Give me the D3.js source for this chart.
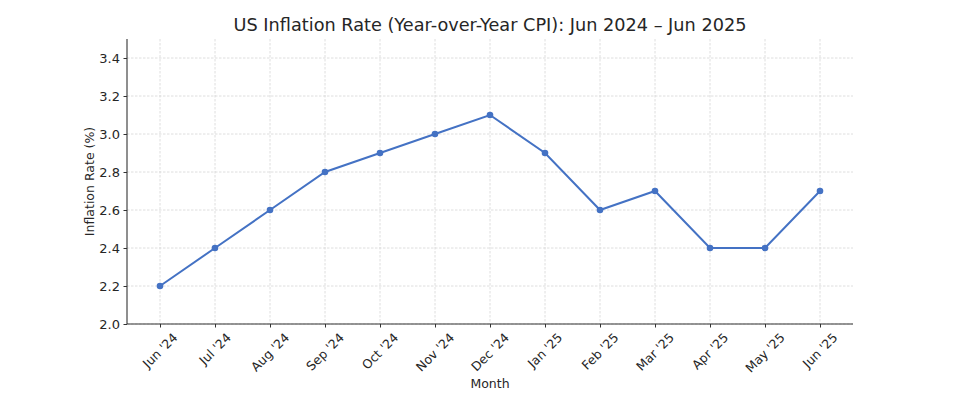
<!DOCTYPE html>
<html>
<head>
<meta charset="utf-8">
<script src="https://cdn.jsdelivr.net/npm/d3@7"></script>
<style>
body { margin:0; background:#fff; }
text { font-family: "DejaVu Sans", sans-serif; fill:#262626; }
</style>
</head>
<body>
<svg id="chart" width="980" height="395"></svg>
<script>
var months = ["Jun '24","Jul '24","Aug '24","Sep '24","Oct '24","Nov '24","Dec '24","Jan '25","Feb '25","Mar '25","Apr '25","May '25","Jun '25"]
var rates = [2.2,2.4,2.6,2.8,2.9,3.0,3.1,2.9,2.6,2.7,2.4,2.4,2.7]
var yTicks = [2.0,2.2,2.4,2.6,2.8,3.0,3.2,3.4]

var margins = {top:39,right:127,bottom:71,left:127}
var width = 980 - margins.left - margins.right
var height = 395 - margins.top - margins.bottom

var svg = d3.select("#chart")
var g = svg.append("g").attr("transform","translate("+margins.left+","+margins.top+")")

// matplotlib style 5% margin on x
var xScale = d3.scaleLinear()
    .domain([-0.6, months.length-1+0.6])
    .range([0,width])
var yScale = d3.scaleLinear()
    .domain([2.0,3.5])
    .range([height,0])

// grid
g.append("g").selectAll("line.hg")
    .data(yTicks).enter().append("line")
    .attr("x1",0).attr("x2",width)
    .attr("y1",d=>yScale(d)).attr("y2",d=>yScale(d))
    .attr("stroke","#d6d6d6").attr("stroke-width",0.8).attr("stroke-dasharray","2.5,1.5")
g.append("g").selectAll("line.vg")
    .data(months).enter().append("line")
    .attr("x1",(d,i)=>xScale(i)).attr("x2",(d,i)=>xScale(i))
    .attr("y1",0).attr("y2",height)
    .attr("stroke","#d6d6d6").attr("stroke-width",0.8).attr("stroke-dasharray","2.5,1.5")

// y axis
var yAxis = d3.axisLeft(yScale).tickValues(yTicks).tickFormat(d3.format(".1f")).tickSize(3.5).tickPadding(3.5)
var ya = g.append("g").call(yAxis)
ya.select(".domain").attr("d","M0,"+height+"V0").attr("stroke","#333").attr("stroke-width",1.1)
ya.selectAll(".tick line").attr("stroke","#333")
ya.selectAll(".tick text").style("font-size","13px").style("font-family","DejaVu Sans").attr("fill","#262626")

// x axis
var xAxis = d3.axisBottom(xScale).tickValues(d3.range(months.length)).tickFormat("").tickSize(3.5)
var xa = g.append("g").attr("transform","translate(0,"+height+")").call(xAxis)
xa.select(".domain").attr("d","M0,0H"+width).attr("stroke","#333").attr("stroke-width",1.1)
xa.selectAll(".tick line").attr("stroke","#333")

// rotated month labels, centered under the ticks
var labels = g.append("g").selectAll("text.mlab")
    .data(months).enter().append("text")
    .attr("class","mlab")
    .style("font-size","12.5px")
    .attr("text-anchor","middle")
    .attr("dominant-baseline","central")
    .text(d=>d)
labels.attr("transform",function(d,i){
    var L = this.getComputedTextLength()
    var side = (L+12)*Math.SQRT1_2
    return "translate("+xScale(i)+","+(height+7+side/2)+") rotate(-45)"
})

// line + points
var line = d3.line().x((d,i)=>xScale(i)).y(d=>yScale(d))
g.append("path").datum(rates)
    .attr("d",line).attr("fill","none")
    .attr("stroke","#4472c4").attr("stroke-width",2)
g.selectAll("circle").data(rates).enter().append("circle")
    .attr("cx",(d,i)=>xScale(i)).attr("cy",d=>yScale(d))
    .attr("r",3.3).attr("fill","#4472c4")

// titles
svg.append("text").attr("x",margins.left+width/2).attr("y",31)
    .attr("text-anchor","middle").style("font-size","17.7px")
    .text("US Inflation Rate (Year-over-Year CPI): Jun 2024 \u2013 Jun 2025")
svg.append("text").attr("x",margins.left+width/2).attr("y",388)
    .attr("text-anchor","middle").style("font-size","12.5px").text("Month")
svg.append("text").attr("transform","translate(94,"+(margins.top+height/2)+") rotate(-90)")
    .attr("text-anchor","middle").style("font-size","12.5px").text("Inflation Rate (%)")
</script>
</body>
</html>
